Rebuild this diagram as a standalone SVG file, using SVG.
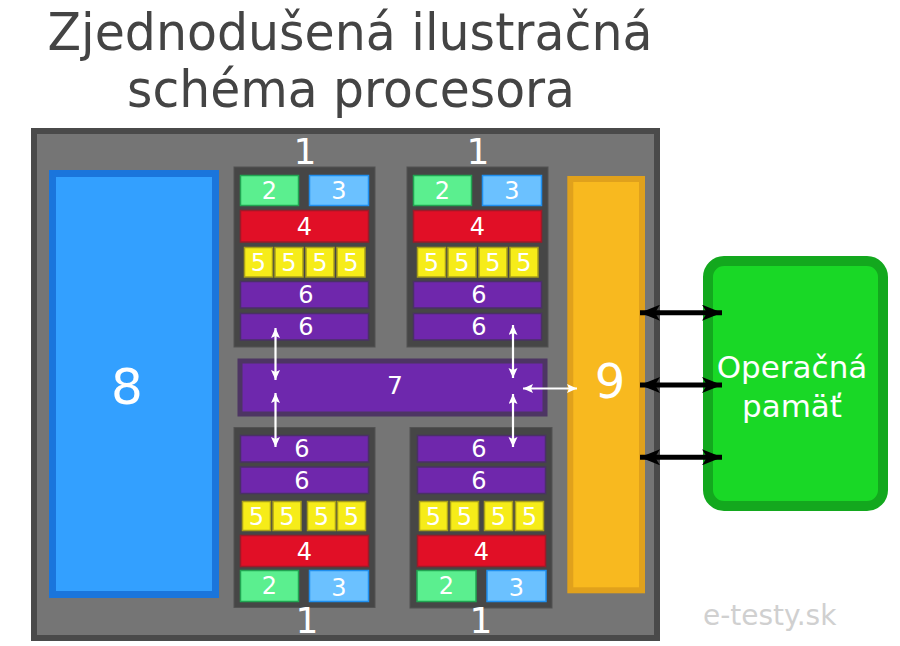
<svg xmlns="http://www.w3.org/2000/svg" width="900" height="646" viewBox="0 0 900 646">
<defs>
<style>
text{font-family:"DejaVu Sans","Verdana",sans-serif;fill:#fff;text-anchor:middle}
.title{fill:#444;font-size:52px}
.core{fill:#464646;stroke:#525252;stroke-width:1}
.b2{fill:#5bef8f;stroke:#21a552;stroke-width:1.5}
.b3{fill:#6bc1ff;stroke:#1f8fef;stroke-width:1.5}
.b4{fill:#e10f26;stroke:#9b1b29;stroke-width:1.5}
.b5{fill:#f6ec19;stroke:#a89f1a;stroke-width:1.5}
.b6{fill:#6f27ac;stroke:#4a3066;stroke-width:1.5}
.n{font-size:24px}
.one{font-size:36px}
.wa{stroke:#fff;stroke-width:2.2;fill:none;marker-start:url(#wh);marker-end:url(#wh)}
.ba{stroke:#000;stroke-width:5;fill:none;marker-start:url(#bh);marker-end:url(#bh)}
</style>
<marker id="wh" markerUnits="userSpaceOnUse" markerWidth="11" markerHeight="10" refX="10" refY="4.5" orient="auto-start-reverse"><path d="M0,0 L10,4.5 L0,9 L2,4.5 z" fill="#fff"/></marker>
<marker id="bh" markerUnits="userSpaceOnUse" markerWidth="21" markerHeight="16" refX="20" refY="8" orient="auto-start-reverse"><path d="M0,0 L20,8 L0,16 L5,8 z" fill="#000"/></marker>
</defs>
<rect width="900" height="646" fill="#fff"/>
<g id="title">
<text class="title" x="350" y="50" textLength="605" lengthAdjust="spacingAndGlyphs">Zjednodušená ilustračná</text>
<text class="title" x="351" y="107" textLength="448" lengthAdjust="spacingAndGlyphs">schéma procesora</text>
</g>
<g id="processor"><rect x="34" y="131" width="623" height="507" fill="#757575" stroke="#4a4a4a" stroke-width="6"/></g>
<g id="block8"><rect x="52.5" y="173.5" width="163" height="421" fill="#33a0ff" stroke="#1a75dc" stroke-width="7"/><text x="127" y="404" style="font-size:50px">8</text></g>
<g id="block9"><rect x="570.3" y="179" width="71.7" height="411.3" fill="#f8b91f" stroke="#e0a11c" stroke-width="6"/><text x="610" y="398" style="font-size:48px">9</text></g>
<g id="bus7"><rect x="240" y="361" width="305" height="53" fill="#6e28ad" stroke="#4d3563" stroke-width="5"/><text x="395" y="394" style="font-size:25px">7</text></g>
<g id="core-tl">
<text class="one" x="305" y="164">1</text>
<rect class="core" x="234" y="167" width="141" height="180"/>
<rect class="b2" x="240.5" y="175.5" width="58" height="30"/><text class="n" x="269.5" y="199">2</text>
<rect class="b3" x="309.5" y="175.5" width="59" height="30"/><text class="n" x="339" y="199">3</text>
<rect class="b4" x="240.5" y="210.5" width="128" height="31.5"/><text class="n" x="304.5" y="235">4</text>
<rect class="b5" x="244.5" y="247.5" width="28" height="29.5"/><text class="n" x="258.5" y="271">5</text>
<rect class="b5" x="275" y="247.5" width="28" height="29.5"/><text class="n" x="289" y="271">5</text>
<rect class="b5" x="306" y="247.5" width="28" height="29.5"/><text class="n" x="320" y="271">5</text>
<rect class="b5" x="337" y="247.5" width="28" height="29.5"/><text class="n" x="351" y="271">5</text>
<rect class="b6" x="240.5" y="281.5" width="128" height="26.5"/><text class="n" x="306" y="303">6</text>
<rect class="b6" x="240.5" y="313.5" width="128" height="26.5"/><text class="n" x="306" y="335">6</text>
</g>
<g id="core-tr">
<text class="one" x="478" y="164">1</text>
<rect class="core" x="407" y="167" width="141" height="180"/>
<rect class="b2" x="413.5" y="175.5" width="58" height="30"/><text class="n" x="442.5" y="199">2</text>
<rect class="b3" x="482.5" y="175.5" width="59" height="30"/><text class="n" x="512" y="199">3</text>
<rect class="b4" x="413.5" y="210.5" width="128" height="31.5"/><text class="n" x="477.5" y="235">4</text>
<rect class="b5" x="417.5" y="247.5" width="28" height="29.5"/><text class="n" x="431.5" y="271">5</text>
<rect class="b5" x="448" y="247.5" width="28" height="29.5"/><text class="n" x="462" y="271">5</text>
<rect class="b5" x="479" y="247.5" width="28" height="29.5"/><text class="n" x="493" y="271">5</text>
<rect class="b5" x="510" y="247.5" width="28" height="29.5"/><text class="n" x="524" y="271">5</text>
<rect class="b6" x="413.5" y="281.5" width="128" height="26.5"/><text class="n" x="479" y="303">6</text>
<rect class="b6" x="413.5" y="313.5" width="128" height="26.5"/><text class="n" x="479" y="335">6</text>
</g>
<g id="core-bl">
<rect class="core" x="234" y="427.5" width="141" height="180"/>
<rect class="b6" x="240.5" y="435.5" width="128" height="26.5"/><text class="n" x="302" y="457">6</text>
<rect class="b6" x="240.5" y="467" width="128" height="26.5"/><text class="n" x="302" y="488.5">6</text>
<rect class="b5" x="242.5" y="501.5" width="28" height="29"/><text class="n" x="256.5" y="524.5">5</text>
<rect class="b5" x="273" y="501.5" width="28" height="29"/><text class="n" x="287" y="524.5">5</text>
<rect class="b5" x="307.5" y="501.5" width="28" height="29"/><text class="n" x="321.5" y="524.5">5</text>
<rect class="b5" x="337.5" y="501.5" width="28" height="29"/><text class="n" x="351.5" y="524.5">5</text>
<rect class="b4" x="240.5" y="535.5" width="128" height="31"/><text class="n" x="304.5" y="559.5">4</text>
<rect class="b2" x="240.5" y="570.5" width="58" height="31"/><text class="n" x="269.5" y="594">2</text>
<rect class="b3" x="309.5" y="570.5" width="59" height="31"/><text class="n" x="339" y="596">3</text>
<text class="one" x="307" y="633">1</text>
</g>
<g id="core-br">
<rect class="core" x="410" y="427.5" width="142" height="180.5"/>
<rect class="b6" x="417.5" y="435.5" width="128" height="26.5"/><text class="n" x="479" y="457">6</text>
<rect class="b6" x="417.5" y="467" width="128" height="26.5"/><text class="n" x="479" y="488.5">6</text>
<rect class="b5" x="419.5" y="501.5" width="28" height="29"/><text class="n" x="433.5" y="524.5">5</text>
<rect class="b5" x="450.5" y="501.5" width="28" height="29"/><text class="n" x="464.5" y="524.5">5</text>
<rect class="b5" x="484.5" y="501.5" width="28" height="29"/><text class="n" x="498.5" y="524.5">5</text>
<rect class="b5" x="515.5" y="501.5" width="28" height="29"/><text class="n" x="529.5" y="524.5">5</text>
<rect class="b4" x="417.5" y="535.5" width="128" height="31"/><text class="n" x="481.5" y="559.5">4</text>
<rect class="b2" x="417" y="570.5" width="59" height="31"/><text class="n" x="446.5" y="594">2</text>
<rect class="b3" x="487" y="570.5" width="59" height="31"/><text class="n" x="516.5" y="596">3</text>
<text class="one" x="481" y="633">1</text>
</g>
<g id="memory">
<rect x="708" y="261" width="175" height="245" rx="16" fill="#19d826" stroke="#13a81e" stroke-width="10"/>
<text x="792" y="378" style="font-size:31px">Operačná</text>
<text x="792" y="417" style="font-size:31px">pamäť</text>
</g>
<g id="watermark"><text x="703" y="625" style="font-size:28px;fill:#d0d0d0;text-anchor:start">e-testy.sk</text></g>
<g id="connectors">
<line class="wa" x1="275.5" y1="328" x2="275.5" y2="380"/>
<line class="wa" x1="275.5" y1="393" x2="275.5" y2="447"/>
<line class="wa" x1="513" y1="325" x2="513" y2="378"/>
<line class="wa" x1="513" y1="394" x2="513" y2="447"/>
<line class="wa" x1="523" y1="388.5" x2="577" y2="388.5"/>
<line class="ba" x1="640" y1="312.7" x2="722" y2="312.7"/>
<line class="ba" x1="640" y1="385" x2="722" y2="385"/>
<line class="ba" x1="640" y1="457.3" x2="722" y2="457.3"/>
</g>
</svg>
